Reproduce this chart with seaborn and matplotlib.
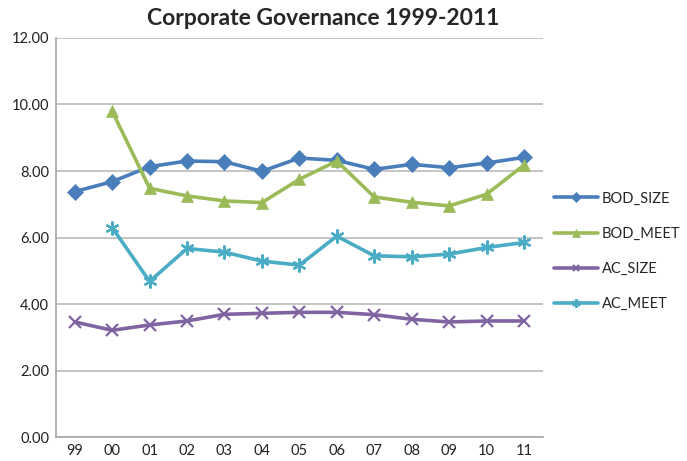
import matplotlib
matplotlib.use("Agg")
import matplotlib.pyplot as plt
import seaborn as sns
import pandas as pd
import numpy as np

years = ["99", "00", "01", "02", "03", "04", "05", "06", "07", "08", "09", "10", "11"]
bod_size = [7.38, 7.68, 8.13, 8.30, 8.28, 7.99, 8.39, 8.32, 8.05, 8.20, 8.10, 8.24, 8.41]
bod_meet = [np.nan, 9.80, 7.48, 7.25, 7.10, 7.05, 7.75, 8.30, 7.22, 7.06, 6.95, 7.30, 8.18]
ac_size = [3.46, 3.21, 3.37, 3.49, 3.69, 3.72, 3.75, 3.75, 3.68, 3.54, 3.46, 3.49, 3.49]
ac_meet = [np.nan, 6.30, 4.68, 5.67, 5.56, 5.29, 5.17, 6.04, 5.45, 5.42, 5.50, 5.70, 5.85]

series_names = ["BOD_SIZE", "BOD_MEET", "AC_SIZE", "AC_MEET"]
series_vals = [bod_size, bod_meet, ac_size, ac_meet]
colors = ["#4A7EBB", "#9BBB59", "#8064A2", "#4BACC6"]
markers = ["D", "^", "x", (6, 2, 0)]
msizes = [8, 9, 8, 10]

sns.set_style("white")
plt.rcParams["font.family"] = ["Lato", "DejaVu Sans"]

fig = plt.figure(figsize=(6.87, 4.61), dpi=100)
ax = fig.add_axes([0.0815, 0.052, 0.7085, 0.8656])

xpos = np.arange(len(years))
for name, vals, c, m, ms in zip(series_names, series_vals, colors, markers, msizes):
    df = pd.DataFrame({"x": xpos, "y": vals}).dropna()
    sns.lineplot(data=df, x="x", y="y", ax=ax, color=c, marker=m, markersize=ms,
                 linewidth=2.6, markeredgewidth=1.6 if m in ("x",) or isinstance(m, tuple) else 0.5,
                 markeredgecolor=c, label=name, sort=False)

ax.set_xlim(-0.5, len(years) - 0.5)
ax.set_ylim(0, 12)
ax.set_yticks(np.arange(0, 12.01, 2))
ax.set_yticklabels([f"{v:.2f}" for v in np.arange(0, 12.01, 2)])
ax.set_xticks(xpos)
ax.set_xticklabels(years)
ax.set_xlabel("")
ax.set_ylabel("")
ax.yaxis.grid(True, color="#c0c0c0", linewidth=1.3)
ax.set_axisbelow(True)
for s in ["top", "right"]:
    ax.spines[s].set_visible(False)
for s in ["left", "bottom"]:
    ax.spines[s].set_color("#a6a6a6")
    ax.spines[s].set_linewidth(1.2)
ax.tick_params(axis="both", length=0, labelsize=10.5, colors="#222222", pad=5)

ax.set_title("Corporate Governance 1999-2011", fontsize=16.5, fontweight="bold", pad=9, x=0.548)

leg = ax.get_legend()
if leg:
    leg.remove()
handles, labels = ax.get_legend_handles_labels()
fig.legend(handles, labels, loc="center left", bbox_to_anchor=(0.787, 0.455), frameon=False,
           fontsize=10.5, handlelength=3.0, labelspacing=1.45, handletextpad=0.3,
           markerscale=0.6)

fig.savefig("out.png", dpi=100)
